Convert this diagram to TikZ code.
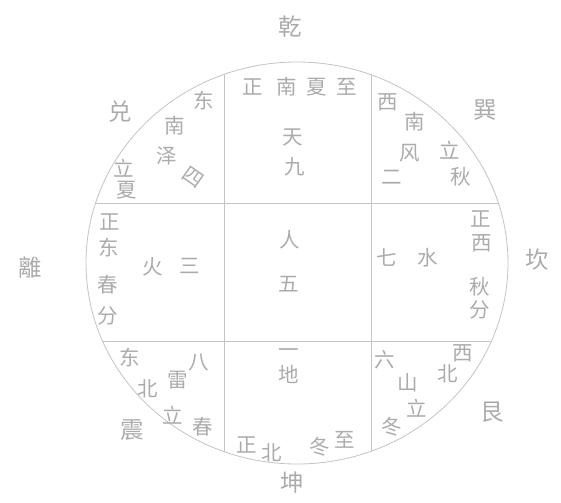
\documentclass[tikz,border=0pt]{standalone}
\usepackage{fontspec}
\newfontfamily\cjk{Noto Sans CJK SC}
\usepackage{xcolor}
\usetikzlibrary{positioning}
\definecolor{inkGray}{HTML}{ABABAB}
\definecolor{lineGray}{HTML}{C4C4C4}

\begin{document}
\begin{tikzpicture}[x=0.03cm, y=-0.03cm,
  glyph/.style={text=inkGray, font=\cjk\fontsize{17.5}{17.5}\selectfont, inner sep=0pt},
  gua/.style={text=inkGray, font=\cjk\fontsize{20}{20}\selectfont, inner sep=0pt},
  rim/.style={draw=lineGray, line width=0.7pt}
]
  \useasboundingbox (0,0) rectangle (561,502);

  % circle and the nine cells
  \draw[rim] (297,263) ellipse [x radius=211, y radius=201];
  \begin{scope}
    \clip (297,263) ellipse [x radius=211, y radius=201];
    \draw[rim] (224,0) -- (224,502);
    \draw[rim] (371,0) -- (371,502);
    \draw[rim] (0,203) -- (561,203);
    \draw[rim] (0,341) -- (561,341);
  \end{scope}

  % eight trigrams outside
  \node[gua] (qian) at (290,27)  {乾};
  \node[gua] (dui)  at (120,112) {兑};
  \node[gua] (xun)  at (485,110) {巽};
  \node[gua] (li)   at (30,268)  {離};
  \node[gua] (kan)  at (537,260) {坎};
  \node[gua] (zhen) at (132,430) {震};
  \node[gua] (gen)  at (492,412) {艮};
  \node[gua] (kun)  at (292,483) {坤};

  % top cell
  \node[glyph] (nZheng) at (253,87)  {正};
  \node[glyph] (nNan)   at (287,87)  {南};
  \node[glyph] (nXia)   at (317,87)  {夏};
  \node[glyph] (nZhi)   at (347,87)  {至};
  \node[glyph] (tian)   at (293,137) {天};
  \node[glyph] (jiu)    at (295,167) {九};

  % centre cell
  \node[glyph] (ren) at (290,240) {人};
  \node[glyph] (wu)  at (289,284) {五};

  % bottom cell
  \node[glyph] (yi)     at (289,353) {一};
  \node[glyph] (di)     at (289,374) {地};
  \node[glyph] (sZheng) at (247,445) {正};
  \node[glyph] (sBei)   at (272,453) {北};
  \node[glyph] (sDong)  at (320,447) {冬};
  \node[glyph] (sZhi)   at (345,440) {至};

  % left cell
  \node[glyph] (eZheng) at (110,222) {正};
  \node[glyph] (eDong)  at (109,248) {东};
  \node[glyph] (eChun)  at (108,285) {春};
  \node[glyph] (eFen)   at (108,316) {分};
  \node[glyph] (huo)    at (153,267) {火};
  \node[glyph] (san)    at (190,266) {三};

  % right cell
  \node[glyph] (wZheng) at (481,219) {正};
  \node[glyph] (wXi)    at (482,243) {西};
  \node[glyph] (wQiu)   at (480,287) {秋};
  \node[glyph] (wFen)   at (480,310) {分};
  \node[glyph] (qi)     at (387,258) {七};
  \node[glyph] (shui)   at (428,258) {水};

  % top-left cell
  \node[glyph] (seDong) at (204,101) {东};
  \node[glyph] (seNan)  at (175,126) {南};
  \node[glyph] (ze)     at (167,156) {泽};
  \node[glyph, rotate=-35] (si) at (193,177) {四};
  \node[glyph] (seLi)   at (124,168) {立};
  \node[glyph] (seXia)  at (127,190) {夏};

  % top-right cell
  \node[glyph] (swXi)   at (388,102) {西};
  \node[glyph] (swNan)  at (415,122) {南};
  \node[glyph] (feng)   at (410,153) {风};
  \node[glyph] (er)     at (392,177) {二};
  \node[glyph] (swLi)   at (450,150) {立};
  \node[glyph] (swQiu)  at (461,177) {秋};

  % bottom-left cell
  \node[glyph] (neDong) at (130,358) {东};
  \node[glyph] (neBei)  at (148,389) {北};
  \node[glyph] (lei)    at (178,380) {雷};
  \node[glyph] (ba)     at (199,362) {八};
  \node[glyph] (neLi)   at (173,415) {立};
  \node[glyph] (neChun) at (203,427) {春};

  % bottom-right cell
  \node[glyph] (nwXi)   at (463,353) {西};
  \node[glyph] (nwBei)  at (448,374) {北};
  \node[glyph] (liu)    at (385,360) {六};
  \node[glyph] (shan)   at (408,383) {山};
  \node[glyph] (nwLi)   at (417,408) {立};
  \node[glyph] (nwDong) at (392,427) {冬};
\end{tikzpicture}
\end{document}
